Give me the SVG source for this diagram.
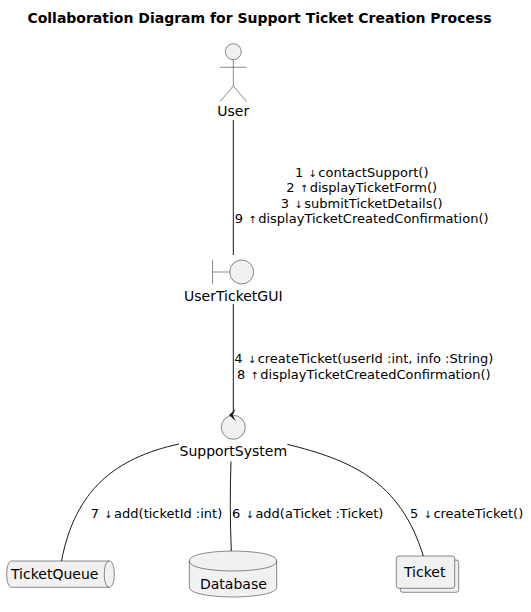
<svg xmlns="http://www.w3.org/2000/svg" width="531" height="612" viewBox="0 0 531 612">
<style>
text{font-family:"DejaVu Sans",sans-serif;font-size:14px;fill:#000}
.t{font-weight:bold;text-anchor:middle}
.m{text-anchor:middle}
.e{font-size:13px}
.a{font-size:10px}
.s{fill:#F1F1F1;stroke:#181818;stroke-width:.5}
.n{fill:none;stroke:#181818;stroke-width:.5}
.l{fill:none;stroke:#181818;stroke-width:1}
</style>
<rect width="531" height="612" fill="#fff"/>
<text id="title" class="t" x="259.500" y="23">Collaboration Diagram for Support Ticket Creation Process</text>
<g id="connectors">
<path class="l" d="M233.300,120 L233.300,255"/>
<path class="l" d="M233.300,304 L233.300,412"/>
<path class="l" d="M179,444 C115,458 75,490 61.500,561"/>
<path class="l" d="M231,461.500 C230,490 230,520 231.300,551.500"/>
<path class="l" d="M287.300,444.300 C350,460 400,480 423.300,556"/>
</g>
<g id="connector-labels">
<text class="m e" x="361.700" y="177">1 <tspan class="a" dx="1">↓</tspan><tspan dx="1.600">contactSupport()</tspan></text>
<text class="m e" x="361.700" y="192.300">2 <tspan class="a" dx="1">↑</tspan><tspan dx="1.600">displayTicketForm()</tspan></text>
<text class="m e" x="361.700" y="208">3 <tspan class="a" dx="1">↓</tspan><tspan dx="1.600">submitTicketDetails()</tspan></text>
<text class="m e" x="361.700" y="223">9 <tspan class="a" dx="1">↑</tspan><tspan dx="1.600">displayTicketCreatedConfirmation()</tspan></text>
<text class="m e" x="363.800" y="363">4 <tspan class="a" dx="1">↓</tspan><tspan dx="1.600">createTicket(userId :int, info :String)</tspan></text>
<text class="m e" x="363.800" y="378.500">8 <tspan class="a" dx="1">↑</tspan><tspan dx="1.600">displayTicketCreatedConfirmation()</tspan></text>
<text class="e" x="90.700" y="518">7 <tspan class="a" dx="1">↓</tspan><tspan dx="1.600">add(ticketId :int)</tspan></text>
<text class="e" x="232" y="518">6 <tspan class="a" dx="1">↓</tspan><tspan dx="1.600">add(aTicket :Ticket)</tspan></text>
<text class="e" x="410" y="518">5 <tspan class="a" dx="1">↓</tspan><tspan dx="1.600">createTicket()</tspan></text>
</g>
<g id="User">
<circle class="s" cx="233.300" cy="51.700" r="8"/>
<path class="n" d="M233.300,59.700 V86 M220,67.300 H246.700 M233.300,86 L220,101.700 M233.300,86 L246.700,101.700"/>
<text class="m" x="233.300" y="116">User</text>
</g>
<g id="UserTicketGUI">
<path class="n" d="M212.500,260 V284 M212.500,272 H229.700"/>
<circle class="s" cx="241.700" cy="272" r="12"/>
<text class="m" x="233.300" y="301">UserTicketGUI</text>
</g>
<g id="SupportSystem">
<circle class="s" cx="233.300" cy="427.300" r="12"/>
<path fill="#181818" d="M235.700,409 L229,415 L235.700,421 L232.700,415 Z"/>
<text class="m" x="233.300" y="456">SupportSystem</text>
</g>
<g id="TicketQueue">
<path class="s" d="M11.700,561 H109.300 C112.500,561 114.300,567 114.300,574 C114.300,581 112.500,587.300 109.300,587.300 H11.700 C8.500,587.300 6.700,581 6.700,574 C6.700,567 8.500,561 11.700,561 Z"/>
<path class="n" d="M109.300,561 C106,561 104.300,567 104.300,574 C104.300,581 106,587.300 109.300,587.300"/>
<text x="11" y="579">TicketQueue</text>
</g>
<g id="Database">
<path class="s" d="M189.300,561 C189.300,551 233,551 233,551 C233,551 276.700,551 276.700,561 V587 C276.700,597 233,597 233,597 C233,597 189.300,597 189.300,587 Z"/>
<path class="n" d="M189.300,561 C189.300,571 233,571 233,571 C233,571 276.700,571 276.700,561"/>
<text x="200" y="589">Database</text>
</g>
<g id="Ticket">
<rect class="s" x="400.300" y="560" width="58.400" height="32.300" rx="2.500"/>
<rect class="s" x="396.300" y="556" width="58.400" height="32.300" rx="2.500"/>
<text x="404" y="577">Ticket</text>
</g>
</svg>
